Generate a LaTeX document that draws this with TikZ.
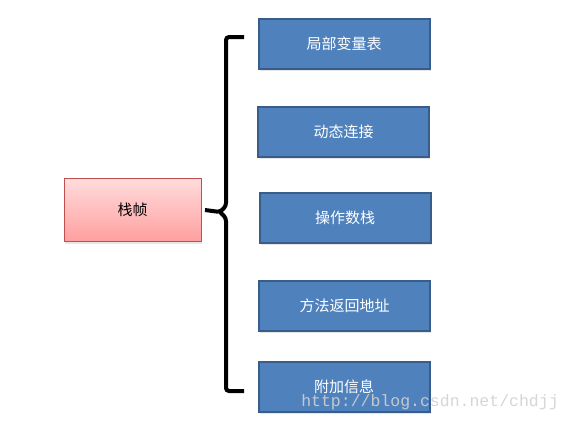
\documentclass[tikz,border=0pt]{standalone}
\usepackage{fontspec}
\newfontfamily\cjk{Noto Sans CJK SC}
\newfontfamily\wmfont{Liberation Mono}
\usetikzlibrary{shadows}
\definecolor{itemfill}{HTML}{4F81BD}
\definecolor{itemdraw}{HTML}{385D8A}
\definecolor{frametop}{HTML}{FFDCDC}
\definecolor{framebot}{HTML}{FF9F9F}
\definecolor{framedraw}{HTML}{C0504D}
\begin{document}
\begin{tikzpicture}[x=1pt, y=-1pt,
  item/.style={draw=itemdraw, line width=2pt, fill=itemfill, text=white,
    minimum width=171pt, minimum height=50pt, inner sep=0pt,
    font=\cjk\fontsize{15}{18}\selectfont,
    drop shadow={opacity=0.2, shadow xshift=1pt, shadow yshift=-2pt}},
  frame/.style={draw=framedraw, line width=0.8pt, top color=frametop, bottom color=framebot,
    minimum width=137pt, minimum height=63pt, inner sep=0pt,
    font=\cjk\fontsize{15}{18}\selectfont,
    drop shadow={opacity=0.2, shadow xshift=1pt, shadow yshift=-2pt}}]
\useasboundingbox (0,0) rectangle (573,421);
\node[frame] (f) at (132.5,210) {栈帧};
\node[item] (a) at (344,43.5) {局部变量表};
\node[item] (b) at (343.5,132) {动态连接};
\node[item] (c) at (345,218) {操作数栈};
\node[item] (d) at (344.5,305.5) {方法返回地址};
\node[item] (e) at (344,387) {附加信息};
% brace
\coordinate (top) at (244,37);
\coordinate (bot) at (244,391);
\draw[line width=4pt, rounded corners=3pt] (top) -- (226,37) -- (226,206) -- (220,212) -- (f.east -| 205,212);
\draw[line width=4pt, rounded corners=3pt] (bot) -- (226,391) -- (226,218) -- (220,212);
\node[font=\wmfont\fontsize{16.5}{18}\selectfont, text=black!18, opacity=0.9] (wm) at (430,402) {http://blog.csdn.net/chdjj};
\end{tikzpicture}
\end{document}
